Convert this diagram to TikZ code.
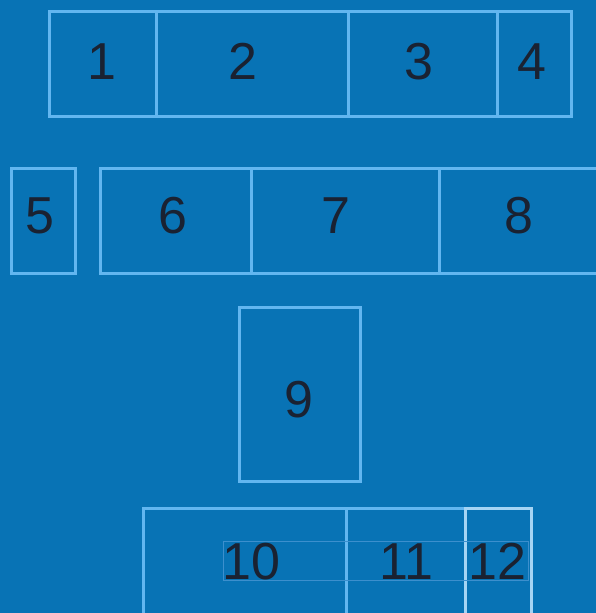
\documentclass[tikz,border=0pt]{standalone}
\usepackage{fontspec}
\setmainfont{Liberation Sans}
\definecolor{bg}{RGB}{8,115,181}
\definecolor{edge}{RGB}{98,182,240}
\definecolor{edgehi}{RGB}{165,212,244}
\definecolor{faint}{RGB}{60,143,205}
\definecolor{digit}{RGB}{26,34,50}
\begin{document}
\begin{tikzpicture}[x=1pt,y=-1pt,
  cell/.style={draw=edge,line width=3pt,rectangle,inner sep=0pt,outer sep=0pt},
  num/.style={text=digit,font=\fontsize{52}{52}\selectfont,inner sep=0pt,anchor=base}]
\useasboundingbox (0,0) rectangle (596,613);
\clip (0,0) rectangle (596,613);
\fill[bg] (0,0) rectangle (596,613);
% row 1
\node[cell,minimum width=107pt,minimum height=105pt] (b1) at (102.5,63.5) {};
\node[cell,minimum width=192pt,minimum height=105pt] (b2) at (252,63.5) {};
\node[cell,minimum width=149pt,minimum height=105pt] (b3) at (422.5,63.5) {};
\node[cell,minimum width=74pt,minimum height=105pt] (b4) at (534,63.5) {};
% row 2
\node[cell,minimum width=64pt,minimum height=105pt] (b5) at (43,220.5) {};
\node[cell,minimum width=151pt,minimum height=105pt] (b6) at (175.5,220.5) {};
\node[cell,minimum width=188pt,minimum height=105pt] (b7) at (345,220.5) {};
\node[cell,minimum width=176pt,minimum height=105pt] (b8) at (527,220.5) {};
% box 9
\node[cell,minimum width=121pt,minimum height=174pt] (b9) at (299.5,394) {};
% row 3
\node[cell,minimum width=203pt,minimum height=122pt] (b10) at (244.5,569) {};
\node[cell,minimum width=119pt,minimum height=122pt] (b11) at (405.5,569) {};
\node[cell,draw=edgehi,minimum width=66pt,minimum height=122pt] (b12) at (498,569) {};
% faint text frame
\node[draw=faint,line width=0.6pt,rectangle,inner sep=0pt,minimum width=305pt,minimum height=39pt] (tf) at (375.5,560.5) {};
% labels
\node[num] (t1) at (102,79) {1};
\node[num] (t2) at (243,79) {2};
\node[num] (t3) at (419,79) {3};
\node[num] (t4) at (532,79) {4};
\node[num] (t5) at (40,233) {5};
\node[num] (t6) at (173,233) {6};
\node[num] (t7) at (336,233) {7};
\node[num] (t8) at (519,233) {8};
\node[num] (t9) at (298.5,417) {9};
\node[num] (t10) at (251.5,579) {10};
\node[num] (t11) at (406,579) {11};
\node[num] (t12) at (497.5,579) {12};
\end{tikzpicture}
\end{document}
